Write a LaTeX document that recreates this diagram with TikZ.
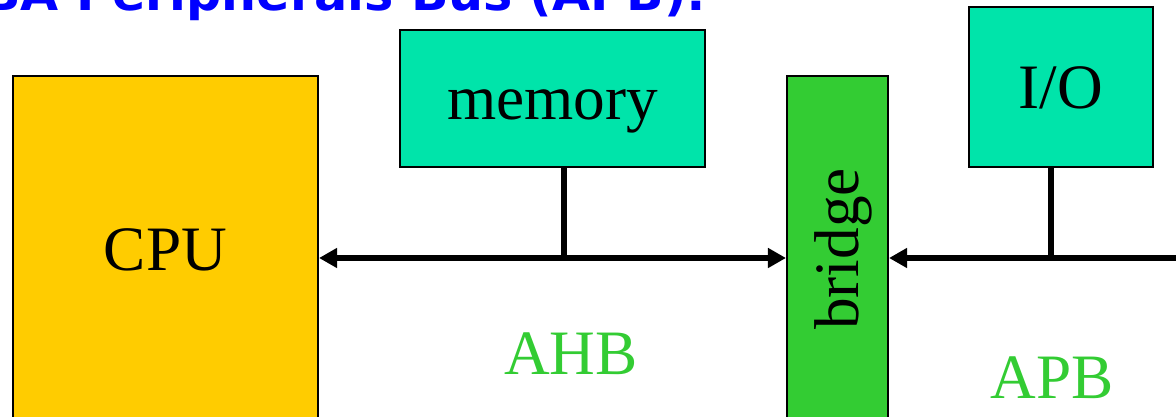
\documentclass[tikz,border=0pt]{standalone}
\usepackage{fontspec}
\usepackage{graphicx}
\setmainfont{Liberation Serif}
\newfontfamily\headfont{DejaVu Sans}
\usetikzlibrary{arrows.meta}

\definecolor{cpuyellow}{RGB}{255,204,0}
\definecolor{periphgreen}{RGB}{0,228,170}
\definecolor{bridgegreen}{RGB}{51,204,51}
\definecolor{headblue}{RGB}{0,0,255}

% same line box for every block label
\newcommand{\blkstrut}{\rule[-3.9pt]{0pt}{19.9pt}}

\tikzset{
    block/.style={draw=black, line width=0.6pt, inner sep=0pt, font=\fontsize{18}{20}\selectfont},
    bus/.style={line width=1.8pt},
    tip/.tip={Triangle[length=0.18cm, width=0.19cm]},
    buslabel/.style={text=bridgegreen, inner sep=0pt, font=\fontsize{18}{20}\selectfont}
}

\begin{document}
\begin{tikzpicture}
    \useasboundingbox (0, 0) rectangle (11.76, 4.16);
    \clip (0, 0) rectangle (11.76, 4.16);

    \node[anchor=base east, inner sep=0pt, text=headblue, font=\headfont\bfseries\fontsize{14}{16}\selectfont] (head) at (7.07, 4.05) {AMBA Peripherals Bus (APB):};

    % blocks
    \node[block, fill=cpuyellow, minimum width=3.05cm, minimum height=3.46cm] (cpu) at (1.655, 1.67) {\blkstrut CPU};
    \node[block, fill=periphgreen, minimum width=3.05cm, minimum height=1.37cm] (mem) at (5.525, 3.175) {\blkstrut memory};
    \node[block, fill=bridgegreen, minimum width=1.01cm, minimum height=3.46cm] (bridge) at (8.375, 1.67) {\rotatebox{90}{\blkstrut bridge}};
    \node[block, fill=periphgreen, minimum width=1.84cm, minimum height=1.60cm] (io) at (10.61, 3.29) {\blkstrut I/O};

    % bus lines
    \coordinate (ahb) at (5.64, 1.58);
    \coordinate (apb) at (10.51, 1.58);
    \coordinate (apbend) at (12.0, 1.58);
    \draw[bus, tip-tip] (cpu.east |- ahb) -- (bridge.west |- ahb);
    \draw[bus, tip-] (bridge.east |- apb) -- (apbend);
    \draw[bus] (ahb |- mem.south) -- (ahb);
    \draw[bus] (apb |- io.south) -- (apb);

    \node[buslabel] (ahblabel) at (5.71, 0.62) {AHB};
    \node[buslabel] (apblabel) at (10.52, 0.38) {APB};
\end{tikzpicture}
\end{document}
